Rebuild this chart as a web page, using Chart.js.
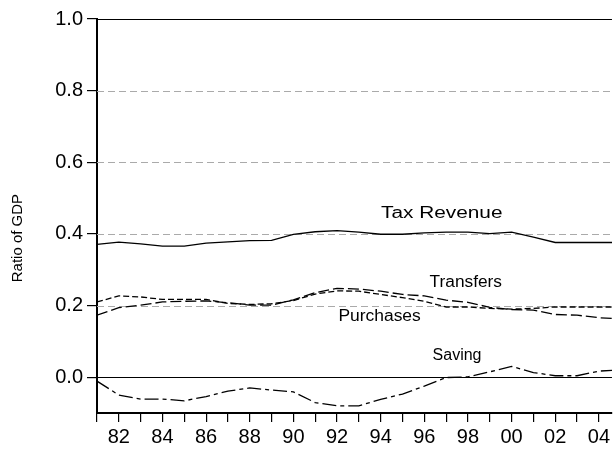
<!DOCTYPE html>
<html>
<head>
<meta charset="utf-8">
<script src="https://cdn.jsdelivr.net/npm/chart.js@4/dist/chart.umd.min.js"></script>
<style>
  html, body { margin: 0; padding: 0; background: #fff; }
  #wrap { width: 613px; height: 449px; }
</style>
</head>
<body>
<div id="wrap"><canvas id="chart" width="613" height="449"></canvas></div>
<script>
// annual ratios to GDP, 1981-2005
const years = [1981, 1982, 1983, 1984, 1985, 1986, 1987, 1988, 1989, 1990, 1991, 1992, 1993,
               1994, 1995, 1996, 1997, 1998, 1999, 2000, 2001, 2002, 2003, 2004, 2005];
const taxRevenue = [0.371, 0.377, 0.372, 0.366, 0.366, 0.374, 0.378, 0.381, 0.382, 0.399, 0.406, 0.409, 0.405,
                    0.399, 0.399, 0.403, 0.405, 0.405, 0.401, 0.405, 0.391, 0.376, 0.376, 0.376, 0.376];
const transfers = [0.173, 0.194, 0.201, 0.210, 0.212, 0.213, 0.208, 0.201, 0.201, 0.216, 0.236, 0.248, 0.246,
                   0.240, 0.231, 0.227, 0.215, 0.209, 0.195, 0.189, 0.187, 0.175, 0.173, 0.166, 0.163];
const purchases = [0.210, 0.227, 0.224, 0.217, 0.217, 0.217, 0.206, 0.203, 0.205, 0.214, 0.232, 0.241, 0.240,
                   0.231, 0.222, 0.212, 0.196, 0.196, 0.192, 0.190, 0.192, 0.196, 0.196, 0.196, 0.196];
const saving = [-0.011, -0.050, -0.061, -0.061, -0.066, -0.054, -0.039, -0.030, -0.036, -0.041, -0.071, -0.080, -0.080,
                -0.062, -0.047, -0.025, -0.001, 0.001, 0.015, 0.030, 0.013, 0.004, 0.004, 0.017, 0.020];

const yTicks = [0.0, 0.2, 0.4, 0.6, 0.8, 1.0];
const xTicks = years.slice(0, 24);

// series names written next to their lines: [text, year, value, x-stretch]
const seriesLabels = [
  ['Tax Revenue', 1996.8, 0.458, 1.3],
  ['Transfers', 1997.9, 0.263, 1.08],
  ['Purchases', 1993.95, 0.170, 1.09],
  ['Saving', 1997.5, 0.059, 1.0]
];

const FONT = '"Liberation Sans", Arial, sans-serif';

function toPoints(values) {
  return values.map((v, i) => ({ x: years[i], y: v }));
}

function lineSet(label, values, dash) {
  return {
    label: label,
    data: toPoints(values),
    borderColor: '#000',
    borderWidth: 1.3,
    borderDash: dash,
    pointRadius: 0,
    tension: 0,
    fill: false
  };
}

// dashed reference lines, zero line, top frame, axis title and series names
const decorations = {
  id: 'decorations',
  beforeDatasetsDraw(chart) {
    const { ctx, chartArea, scales } = chart;
    ctx.save();
    yTicks.forEach(v => {
      const py = Math.round(scales.y.getPixelForValue(v)) + 0.5;
      ctx.beginPath();
      if (v === 0 || v === 1) {
        ctx.setLineDash([]);
        ctx.strokeStyle = '#000';
        ctx.lineWidth = 1.2;
      } else {
        ctx.setLineDash([7, 4]);
        ctx.strokeStyle = '#aaaaaa';
        ctx.lineWidth = 1;
      }
      ctx.moveTo(chartArea.left, py);
      ctx.lineTo(chartArea.right, py);
      ctx.stroke();
    });
    ctx.restore();
  },
  afterDraw(chart) {
    const { ctx, chartArea, scales } = chart;
    ctx.save();
    ctx.fillStyle = '#000';
    ctx.textAlign = 'center';
    ctx.textBaseline = 'middle';

    seriesLabels.forEach(([text, yr, val, sx]) => {
      const px = scales.x.getPixelForValue(yr);
      const py = scales.y.getPixelForValue(val);
      ctx.save();
      ctx.font = '16px ' + FONT;
      ctx.translate(px, py);
      ctx.scale(sx, 1);
      ctx.fillText(text, 0, 0);
      ctx.restore();
    });

    // rotated y axis title
    ctx.font = '15px ' + FONT;
    ctx.translate(18, chartArea.top + (chartArea.bottom - chartArea.top) * 0.556);
    ctx.rotate(-Math.PI / 2);
    ctx.fillText('Ratio of GDP', 0, 0);
    ctx.restore();
  }
};

new Chart(document.getElementById('chart'), {
  type: 'line',
  data: {
    datasets: [
      lineSet('Tax Revenue', taxRevenue, []),
      lineSet('Transfers', transfers, [11, 4]),
      lineSet('Purchases', purchases, [6, 3]),
      lineSet('Saving', saving, [14, 4, 4, 4])
    ]
  },
  options: {
    responsive: false,
    animation: false,
    devicePixelRatio: 1,
    layout: { padding: { top: 19, right: 0, bottom: 0, left: 0 } },
    plugins: {
      legend: { display: false },
      tooltip: { enabled: false }
    },
    scales: {
      x: {
        type: 'linear',
        min: 1981,
        max: 2004.6,
        afterBuildTicks: scale => { scale.ticks = xTicks.map(v => ({ value: v })); },
        afterFit: scale => { scale.height = 36; },
        grid: { display: true, drawOnChartArea: false, drawTicks: true, tickLength: 9, color: '#000', lineWidth: 1.2 },
        border: { display: true, color: '#000', width: 2 },
        ticks: {
          autoSkip: false,
          maxRotation: 0,
          padding: 3,
          color: '#000',
          font: { family: FONT, size: 20 },
          callback: v => (v % 2 === 0 ? String(v).slice(2) : '')
        }
      },
      y: {
        type: 'linear',
        min: -0.1,
        max: 1.0,
        afterBuildTicks: scale => { scale.ticks = yTicks.map(v => ({ value: v })); },
        afterFit: scale => { scale.width = 97; },
        grid: { display: true, drawOnChartArea: false, drawTicks: true, tickLength: 10, color: '#000', lineWidth: 1.2 },
        border: { display: true, color: '#000', width: 2 },
        ticks: {
          padding: 4,
          color: '#000',
          font: { family: FONT, size: 20 },
          callback: v => v.toFixed(1)
        }
      }
    }
  },
  plugins: [decorations]
});
</script>
</body>
</html>
